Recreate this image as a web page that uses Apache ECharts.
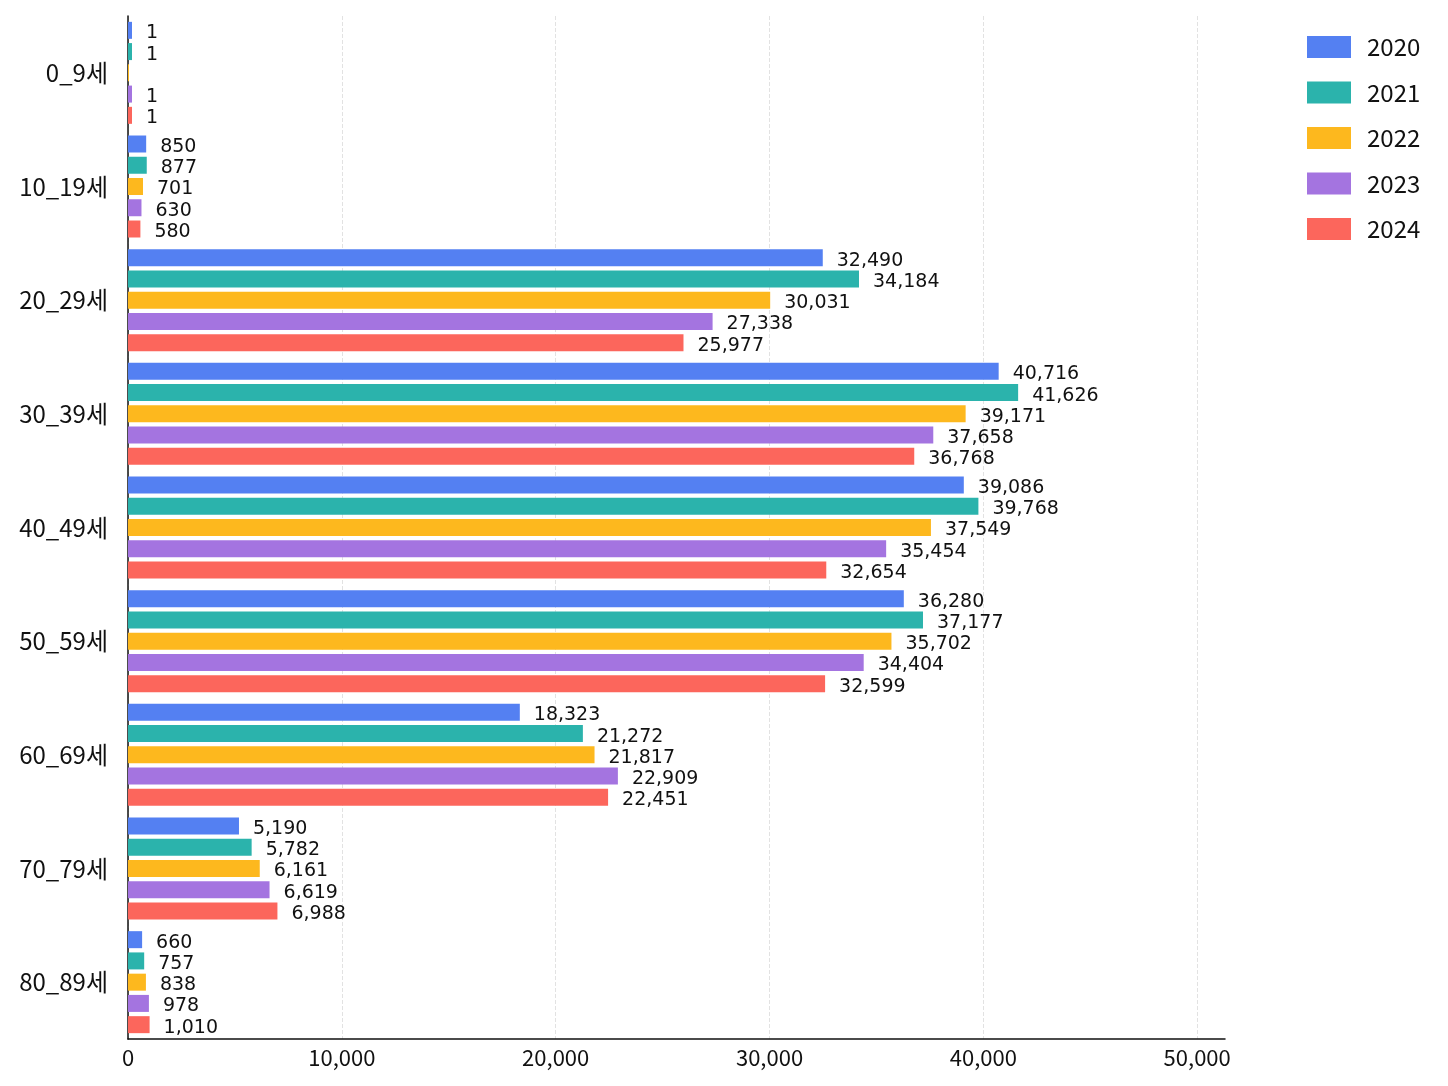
<!DOCTYPE html>
<html>
<head>
<meta charset="utf-8">
<script src="https://cdn.jsdelivr.net/npm/echarts@6/dist/echarts.min.js"></script>
<style>
html,body{margin:0;padding:0;background:#fff;}
#chart{width:1448px;height:1086px;}
</style>
</head>
<body>
<div id="chart"></div>
<script>
const categories = ['0_9세','10_19세','20_29세','30_39세','40_49세','50_59세','60_69세','70_79세','80_89세'];
const years = ['2020','2021','2022','2023','2024'];
const v2020 = [1, 850, 32490, 40716, 39086, 36280, 18323, 5190, 660];
const v2021 = [1, 877, 34184, 41626, 39768, 37177, 21272, 5782, 757];
const v2022 = [0, 701, 30031, 39171, 37549, 35702, 21817, 6161, 838];
const v2023 = [1, 630, 27338, 37658, 35454, 34404, 22909, 6619, 978];
const v2024 = [1, 580, 25977, 36768, 32654, 32599, 22451, 6988, 1010];
const xTicks = [0, 10000, 20000, 30000, 40000, 50000];

const seriesValues = [v2020, v2021, v2022, v2023, v2024];
const colors = ['#5480f2', '#2bb3ac', '#fdb81e', '#a474e0', '#fc665c'];

const chart = echarts.init(document.getElementById('chart'));
const fmt = n => n.toLocaleString('en-US');

chart.setOption({
  backgroundColor: '#ffffff',
  animation: false,
  color: colors,
  grid: { left: 128, right: 223, top: 16, bottom: 47, containLabel: false },
  legend: {
    data: years,
    orient: 'vertical',
    left: 1307,
    top: 35,
    padding: 0,
    icon: 'rect',
    itemWidth: 44,
    itemHeight: 22,
    itemGap: 21.5,
    textStyle: { fontSize: 24, color: '#111', fontFamily: 'Noto Sans CJK KR', padding: [0, 0, 0, 11] }
  },
  xAxis: {
    type: 'value',
    min: 0,
    max: 51300,
    interval: 10000,
    axisLine: { show: true, lineStyle: { color: '#111', width: 1.5 } },
    axisTick: { show: false },
    axisLabel: {
      showMaxLabel: false,
      fontSize: 22,
      color: '#111',
      fontFamily: 'Noto Sans CJK KR',
      margin: 8,
      formatter: v => (xTicks.indexOf(v) >= 0 ? fmt(v) : '')
    },
    splitLine: { show: true, showMaxLine: false, lineStyle: { color: '#e2e2e2', type: 'dashed', width: 1 } }
  },
  yAxis: {
    type: 'category',
    data: categories,
    inverse: true,
    axisLine: { show: true, lineStyle: { color: '#111', width: 1.5 } },
    axisTick: { show: false },
    axisLabel: { fontSize: 24, color: '#111', fontFamily: 'Noto Sans CJK KR', margin: 20 }
  },
  series: years.map((y, i) => ({
    name: y,
    type: 'bar',
    data: seriesValues[i],
    barWidth: 17,
    barGap: '25%',
    barMinHeight: i === 2 ? 1 : 4,
    itemStyle: { color: colors[i] },
    label: {
      show: true,
      position: 'right',
      distance: 14,
      offset: [0, 3],
      fontSize: 19,
      color: '#111',
      fontFamily: 'DejaVu Sans',
      formatter: p => (p.value === 0 ? '' : fmt(p.value))
    }
  }))
});
</script>
</body>
</html>
